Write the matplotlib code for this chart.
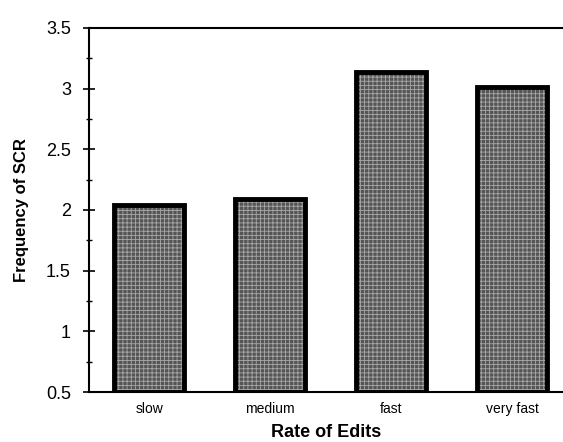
import numpy as np
import matplotlib.pyplot as plt
from matplotlib.ticker import MultipleLocator

# Datos
categorias = ["slow", "medium", "fast", "very fast"]
frecuencia = [2.04, 2.09, 3.14, 3.01]

plt.rcParams['font.family'] = ['Liberation Sans', 'DejaVu Sans']
plt.rcParams['hatch.linewidth'] = 0.6

fig = plt.figure(figsize=(5.63, 4.42), dpi=100)
ax = fig.add_axes([0.158, 0.113, 0.842, 0.824])

x = np.arange(len(categorias))
# relleno texturizado + borde grueso negro
ax.bar(x, np.array(frecuencia) - 0.5, bottom=0.5, width=0.58,
       color='#555555', edgecolor='#a8a8a8', hatch='++++', linewidth=0, zorder=2)
ax.bar(x, np.array(frecuencia) - 0.5, bottom=0.5, width=0.58,
       fill=False, edgecolor='black', linewidth=3.5, zorder=3)

ax.set_ylim(0.5, 3.5)
ax.set_xlim(-0.5, 3.42)
ax.yaxis.set_minor_locator(MultipleLocator(0.25))
ax.set_yticks([0.5, 1, 1.5, 2, 2.5, 3, 3.5])
ax.set_yticklabels(['0.5', '1', '1.5', '2', '2.5', '3', '3.5'])
ax.tick_params(axis='y', which='major', direction='inout', length=8, width=1.2,
               labelsize=13, pad=9)
ax.tick_params(axis='y', which='minor', direction='inout', length=5, width=1)
ax.set_xticks(x)
ax.set_xticklabels(categorias)
ax.tick_params(axis='x', length=0, labelsize=10, pad=7)

for s in ['left', 'bottom', 'top']:
    ax.spines[s].set_linewidth(1.5)
ax.spines['right'].set_visible(False)

ax.set_ylabel("Frequency of SCR", fontsize=12, fontweight='bold', labelpad=12)
ax.set_xlabel("Rate of Edits", fontsize=13, fontweight='bold', labelpad=6)

plt.savefig("out.png", dpi=100)
